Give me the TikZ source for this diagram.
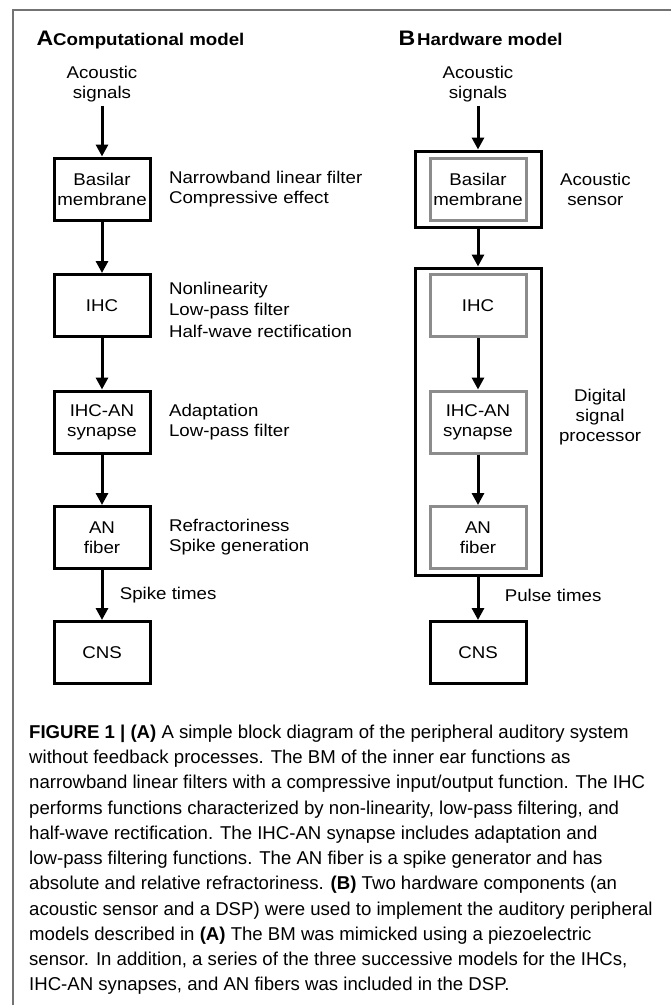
\documentclass[tikz,border=0pt]{standalone}
\usepackage{fontspec}
\setmainfont{Liberation Sans}
\newfontfamily\widefont[FakeStretch=1.1]{Liberation Sans}
\usetikzlibrary{positioning,fit,arrows.meta}
\tikzset{%
    blk/.style={draw, line width=3pt, minimum width=96pt, minimum height=62pt,
      inner sep=1pt, align=center, font=\widefont\fontsize{17}{20}\selectfont},
    hwblk/.style={blk, draw=black!45},
    hwbox/.style={draw, line width=3pt, inner xsep=13.5pt, inner ysep=5.5pt},
    flow/.style={line width=3pt, -{Triangle[width=12pt,length=12pt]}},
    desc/.style={align=left, font=\widefont\fontsize{17}{20}\selectfont},
    ctext/.style={desc, align=center},
    capline/.style={anchor=base west, inner sep=0pt, font=\fontsize{18.6}{25}\selectfont},
}

\begin{document}
\begin{tikzpicture}[x=1pt, y=-1pt, node distance=14pt]
 \useasboundingbox (0,0) rectangle (671,1005);
 \draw[black!55, line width=1.3pt] (13,1005) |- (671,10);
 % panel titles
 \node[anchor=base west, font=\widefont\fontsize{17}{20}\selectfont\bfseries] (tit-a) at (33,45)
   {{\fontsize{21}{21}\selectfont A}Computational model};
 \node[anchor=base west, font=\widefont\fontsize{17}{20}\selectfont\bfseries] (tit-b) at (395,45)
   {{\fontsize{21}{21}\selectfont B}\hspace{2pt}Hardware model};
 \node[ctext] (sig-a) at (102,84.5) {Acoustic\\signals};
 \node[ctext] (sig-b) at (478,84.5) {Acoustic\\signals};
 % blocks of both models
 \foreach \n/\t/\y in {bm/{Basilar\\membrane}/189, ihc/IHC/305.5,
   syn/{IHC-AN\\synapse}/422, an/{AN\\fiber}/537.5}
 {\node[blk] (\n-a) at (102,\y) {\t};
  \node[hwblk] (\n-b) at (478,\y) {\t};}
 \node[blk] (cns-a) at (102,652.5) {CNS};
 \node[blk] (cns-b) at (478,652.5) {CNS};
 \node[hwbox, fit=(bm-b)] (sensor) {};
 \node[hwbox, fit=(ihc-b)(an-b), inner ysep=5pt] (dsp) {};
 % connectors
 \draw[flow] (sig-a) -- (bm-a);
 \foreach \p/\q in {bm/ihc, ihc/syn, syn/an}
 {\draw[flow] (\p-a) -- (\q-a);}
 \draw[flow] (an-a) -- node[desc, right=13pt] (spk) {Spike times} (cns-a);
 \draw[flow] (sig-b) -- (sensor);
 \draw[flow] (sensor) -- (dsp);
 \draw[flow] (ihc-b) -- (syn-b);
 \draw[flow] (syn-b) -- (an-b);
 \draw[flow] (dsp) -- node[desc, right=22pt, yshift=2.5pt] (pls) {Pulse times} (cns-b);
 % side labels
 \node[desc, right=14pt of bm-a] (d-bm) {Narrowband linear filter\\Compressive effect};
 \node[desc, right=14pt of ihc-a, yshift=-4pt, font=\widefont\fontsize{17}{21.5}\selectfont] (d-ihc)
   {Nonlinearity\\Low-pass filter\\Half-wave rectification};
 \node[desc, right=14pt of syn-a] (d-syn) {Adaptation\\Low-pass filter};
 \node[desc, right=14pt of an-a] (d-an) {Refractoriness\\Spike generation};
 \node[ctext, right=14pt of sensor] (d-sensor) {Acoustic\\sensor};
 \node[ctext, right=13pt of dsp, yshift=4.5pt] (d-dsp) {Digital\\signal\\processor};
 % caption
 \foreach \l [count=\i] in {%
   {\textbf{FIGURE 1 | (A)} A simple block diagram of the peripheral auditory system},
   {without feedback processes. The BM of the inner ear functions as},
   {narrowband linear filters with a compressive input/output function. The IHC},
   {performs functions characterized by non-linearity, low-pass filtering, and},
   {half-wave rectification. The IHC-AN synapse includes adaptation and},
   {low-pass filtering functions. The AN fiber is a spike generator and has},
   {absolute and relative refractoriness. \textbf{(B)} Two hardware components (an},
   {acoustic sensor and a DSP) were used to implement the auditory peripheral},
   {models described in \textbf{(A)} The BM was mimicked using a piezoelectric},
   {sensor. In addition, a series of the three successive models for the IHCs,},
   {IHC-AN synapses, and AN fibers was included in the DSP.}}
 {\node[capline] (cap-\i) at (29,{738.3+25.25*(\i-1)}) {\l};}
\end{tikzpicture}
\end{document}
